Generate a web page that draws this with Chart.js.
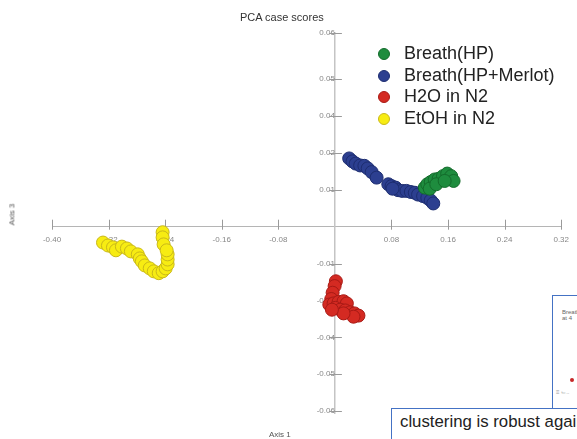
<!DOCTYPE html>
<html>
<head>
<meta charset="utf-8">
<script src="https://cdn.jsdelivr.net/npm/chart.js@4.4.1/dist/chart.umd.min.js"></script>
<style>
  html, body { margin: 0; padding: 0; background: #fff; overflow: hidden; }
  #wrap { position: relative; width: 577px; height: 439px; font-family: "Liberation Sans", Arial, sans-serif; }
  #pca { position: absolute; left: 0; top: 0; }
  #title { position: absolute; left: 240px; top: 11px; font-size: 11px; color: #333; white-space: nowrap; }
  .leg-row { position: absolute; left: 377px; height: 22px; line-height: 22px; font-size: 18px; color: #222; white-space: nowrap; }
  .leg-dot { position: absolute; left: 1px; top: 6px; width: 10px; height: 10px; border-radius: 50%; }
  .leg-row span.txt { position: absolute; left: 27px; top: 0; }
  .axis-title { position: absolute; font-size: 8px; color: #555; white-space: nowrap; }
  #boxA { position: absolute; left: 552px; top: 295px; width: 60px; height: 112px; border: 1.5px solid #4472c4; background: #fff; font-size: 6px; color: #666; }
  #boxB { position: absolute; left: 391px; top: 408px; width: 220px; height: 60px; border: 1.5px solid #4472c4; background: #fff;
          font-size: 16.8px; color: #222; white-space: nowrap; overflow: hidden; }
</style>
</head>
<body>
<div id="wrap">
  <canvas id="pca" width="577" height="439"></canvas>
  <div id="title">PCA case scores</div>
  <div id="legend"></div>
  <div class="axis-title" style="left:269px; top:430px;">Axis 1</div>
  <div class="axis-title" style="left:1px; top:210px; transform: rotate(-90deg);">Axis 3</div>
  <div id="boxA">
    <div style="position:absolute; left:9px; top:13px; line-height:6px;">Breath<br>at 4</div>
    <div style="position:absolute; left:17px; top:82px; width:4px; height:4px; border-radius:50%; background:#c62828;"></div>
    <div style="position:absolute; left:3px; top:92px; color:#999;">&#8801; &#8985;..</div>
  </div>
  <div id="boxB"><div style="position:absolute; left:8px; top:3px;">clustering is robust against</div></div>
</div>
<script>
// Scores on axis 1 (x) and axis 3 (y)
const seriesNames = ['Breath(HP)', 'Breath(HP+Merlot)', 'H2O in N2', 'EtOH in N2'];

const hpX = [0.1271, 0.1307, 0.1355, 0.1411, 0.1467, 0.1528, 0.1588, 0.1644, 0.1678, 0.1341, 0.1434, 0.1552];
const hpY = [0.0106, 0.0115, 0.0121, 0.0128, 0.0130, 0.0137, 0.0144, 0.0137, 0.0124, 0.0103, 0.0115, 0.0124];

const merlotX = [0.0202, 0.0249, 0.0295, 0.0357, 0.0417, 0.0464, 0.0520, 0.0590, 0.0755, 0.0801, 0.0857,
                 0.0895, 0.0952, 0.1012, 0.1074, 0.1130, 0.1176, 0.1247, 0.1307, 0.1355, 0.1391, 0.0815];
const merlotY = [0.0185, 0.0177, 0.0171, 0.0166, 0.0165, 0.0158, 0.0148, 0.0133, 0.0115, 0.0110, 0.0106,
                 0.0099, 0.0097, 0.0097, 0.0094, 0.0092, 0.0087, 0.0083, 0.0078, 0.0071, 0.0063, 0.0103];

const h2oX = [0.0014, -0.0004, -0.0032, -0.0051, -0.0079, -0.0018, 0.0052, 0.0122, 0.0169, 0.0006, 0.0076,
              0.0146, 0.0216, 0.0277, 0.0333, 0.0263, 0.0122, -0.0042];
const h2oY = [-0.0148, -0.0161, -0.0179, -0.0196, -0.0211, -0.0208, -0.0204, -0.0202, -0.0208, -0.0220, -0.0225,
              -0.0227, -0.0232, -0.0235, -0.0241, -0.0244, -0.0235, -0.0225];

const etohX = [-0.2436, -0.2436, -0.2422, -0.3279, -0.3209, -0.3138, -0.3096, -0.3012, -0.2941, -0.2885, -0.2787, -0.2759,
               -0.2730, -0.2688, -0.2618, -0.2561, -0.2491, -0.2436, -0.2393, -0.2365, -0.2365, -0.2365, -0.2379];
const etohY = [-0.0015, -0.0029, -0.0048, -0.0043, -0.0051, -0.0056, -0.0064, -0.0054, -0.0059, -0.0067, -0.0075, -0.0086,
               -0.0094, -0.0105, -0.0113, -0.0121, -0.0126, -0.0121, -0.0113, -0.0102, -0.0089, -0.0075, -0.0064];

// Tick positions and the labels printed at them in the original figure
const xTickValues = [-0.40, -0.32, -0.24, -0.16, -0.08, 0.08, 0.16, 0.24, 0.32];
const xTickLabels = ['-0.40', '-0.32', '-0.24', '-0.16', '-0.08', '0.08', '0.16', '0.24', '0.32'];
const yTickValues = [-0.05, -0.04, -0.03, -0.02, -0.01, 0.01, 0.02, 0.03, 0.04, 0.0525];
const yTickLabels = ['-0.06', '-0.05', '-0.04', '-0.02', '-0.01', '0.01', '0.02', '0.04', '0.05', '0.06'];

const fillColors = ['#1e8c3e', '#2c3f90', '#d42a22', '#f7ec12'];
const edgeColors = ['#136b2b', '#1d2d70', '#a81a15', '#c9b81a'];

const pairs = [[hpX, hpY], [merlotX, merlotY], [h2oX, h2oY], [etohX, etohY]];
const datasets = pairs.map(function (p, i) {
  return {
    label: seriesNames[i],
    data: p[0].map(function (x, k) { return { x: x, y: p[1][k] }; }),
    backgroundColor: fillColors[i],
    borderColor: edgeColors[i],
    borderWidth: 1,
    pointRadius: 6.5,
    pointHoverRadius: 6.5
  };
});

// legend drawn as html in the upper right of the plot
const legend = document.getElementById('legend');
seriesNames.forEach(function (name, i) {
  const row = document.createElement('div');
  row.className = 'leg-row';
  row.style.top = (42 + i * 21.5) + 'px';
  row.innerHTML = '<span class="leg-dot" style="background:' + fillColors[i] + ';border:1px solid ' + edgeColors[i] +
                  '"></span><span class="txt">' + name + '</span>';
  legend.appendChild(row);
});

// small tick marks crossing the axes
const tickMarks = {
  id: 'tickMarks',
  beforeDatasetsDraw(chart) {
    const ctx = chart.ctx, sx = chart.scales.x, sy = chart.scales.y;
    const x0 = sx.getPixelForValue(0), y0 = sy.getPixelForValue(0);
    ctx.save();
    ctx.strokeStyle = '#9a9a9a';
    ctx.lineWidth = 1;
    ctx.beginPath();
    xTickValues.forEach(function (v) {
      const px = Math.round(sx.getPixelForValue(v)) + 0.5;
      ctx.moveTo(px, y0 - 7);
      ctx.lineTo(px, y0 + 3);
    });
    yTickValues.forEach(function (v) {
      const py = Math.round(sy.getPixelForValue(v)) + 0.5;
      ctx.moveTo(x0 - 6, py);
      ctx.lineTo(x0 + 7, py);
    });
    ctx.stroke();
    ctx.restore();
  }
};

const tickFont = { family: '"Liberation Sans", Arial, sans-serif', size: 8 };

new Chart(document.getElementById('pca'), {
  type: 'scatter',
  data: { datasets: datasets },
  plugins: [tickMarks],
  options: {
    responsive: false,
    animation: false,
    layout: { padding: { left: 52, right: 12, top: 33, bottom: 26 } },
    plugins: {
      legend: { display: false },
      tooltip: { enabled: false },
      title: { display: false }
    },
    scales: {
      x: {
        type: 'linear',
        min: -0.40,
        max: 0.32,
        position: { y: 0 },
        afterBuildTicks: function (s) { s.ticks = xTickValues.map(function (v) { return { value: v }; }); },
        grid: { display: false, drawTicks: false },
        border: { color: '#b5b5b5', width: 1 },
        ticks: {
          autoSkip: false, maxRotation: 0, padding: 8, color: '#888', font: tickFont,
          callback: function (v, i) { return xTickLabels[i]; }
        }
      },
      y: {
        type: 'linear',
        min: -0.0505,
        max: 0.0525,
        position: { x: 0 },
        afterBuildTicks: function (s) { s.ticks = yTickValues.map(function (v) { return { value: v }; }); },
        grid: { display: false, drawTicks: false },
        border: { color: '#c4c4c4', width: 1.5 },
        ticks: {
          autoSkip: false, padding: 8, color: '#888', font: tickFont,
          callback: function (v, i) { return yTickLabels[i]; }
        }
      }
    }
  }
});
</script>
</body>
</html>
